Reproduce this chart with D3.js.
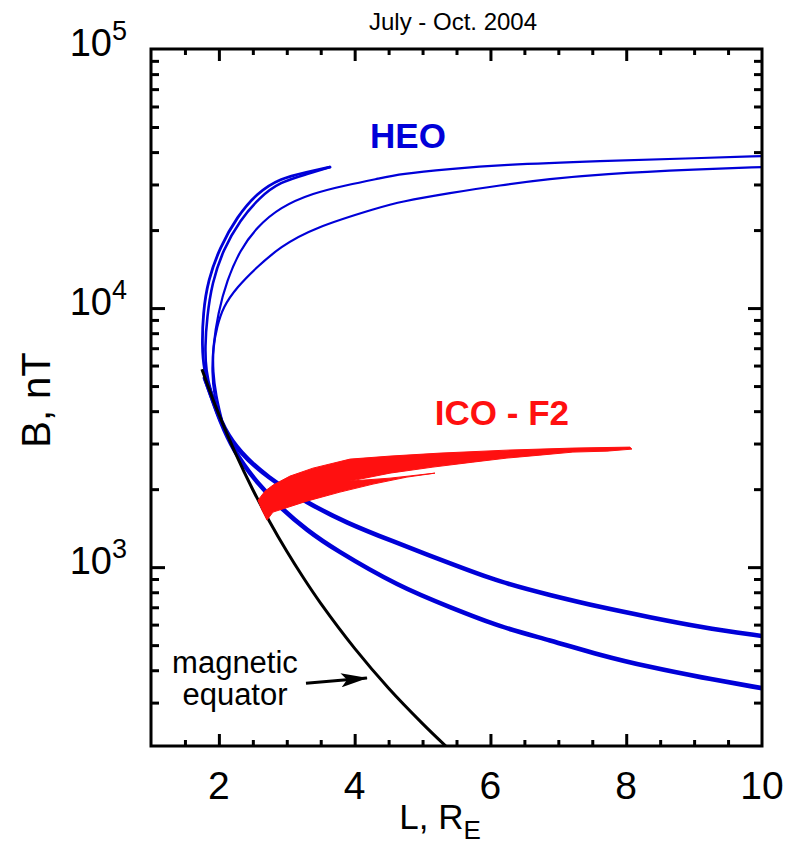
<!DOCTYPE html>
<html>
<head>
<meta charset="utf-8">
<script src="https://cdn.jsdelivr.net/npm/d3@7"></script>
<style>
  body { margin: 0; background: #fff; }
  text { font-family: "Liberation Sans", Arial, sans-serif; }
</style>
</head>
<body>
<div id="chart"></div>
<script>
// ---- values ----
const xLabelTicks = [2, 4, 6, 8, 10];
const xMinorTicks = [1.5, 2.5, 3, 3.5, 4.5, 5, 5.5, 6.5, 7, 7.5, 8.5, 9, 9.5];
const yDecades = [3, 4, 5];
const yMinorTicks = [300, 400, 500, 600, 700, 800, 900,
                     2000, 3000, 4000, 5000, 6000, 7000, 8000, 9000,
                     20000, 30000, 40000, 50000, 60000, 70000, 80000, 90000];

// magnetic equator
const equatorL = [1.75, 1.9, 2, 2.25, 2.5, 2.75, 3, 3.25, 3.5, 4, 4.5, 5, 5.35];
const equatorB = [5800, 4530, 3890, 2730, 1990, 1495, 1152, 906, 725, 486, 341, 249, 203];

// HEO, upper branches (thin)
const heoAL = [10.0, 9.085, 7.613, 6.140, 5.403, 4.667, 4.373, 3.887, 3.386, 2.900, 2.561, 2.311, 2.119, 1.987, 1.913, 1.898, 1.928, 2.016];
const heoAB = [38600, 37900, 37000, 35700, 34400, 32900, 31700, 29850, 27800, 24500, 20550, 16750, 12800, 9570, 7060, 5660, 4615, 3760];

const heoBL = [10.0, 9.085, 7.613, 6.876, 6.140, 5.403, 4.667, 4.373, 3.386, 2.900, 2.561, 2.267, 2.060, 1.972, 1.913, 1.913, 1.957, 2.045];
const heoBB = [35000, 34400, 32900, 31500, 29800, 27800, 25700, 24500, 20370, 17200, 14400, 12060, 10090, 8450, 7060, 5660, 4615, 3700];

const hookOuterL = [3.636, 3.297, 2.900, 2.561, 2.267, 2.016, 1.839, 1.766, 1.751, 1.780, 1.869, 1.987];
const hookOuterB = [35000, 33500, 31700, 27800, 22500, 17200, 12800, 9570, 7060, 5770, 4740, 3860];

const hookInnerL = [3.636, 3.297, 2.900, 2.605, 2.311, 2.060, 1.898, 1.825, 1.795, 1.810, 1.884, 2.001];
const hookInnerB = [35000, 32900, 30660, 26830, 21870, 16750, 12490, 9230, 7060, 5710, 4700, 3830];

// HEO, lower branches (thick)
const heoLow1L = [1.795, 1.898, 1.972, 2.060, 2.311, 2.708, 3.297, 3.887, 4.520, 5.403, 6.140, 6.876, 7.613, 8.349, 9.085, 10.0];
const heoLow1B = [5366, 4533, 4040, 3470, 2760, 2230, 1770, 1480, 1270, 1035, 875, 780, 701, 641, 587, 542];

const heoLow2L = [1.810, 1.913, 2.016, 2.208, 2.561, 2.944, 3.297, 3.680, 4.667, 5.403, 6.140, 6.876, 7.613, 8.349, 9.085, 10.0];
const heoLow2B = [5270, 4410, 3700, 2829, 2110, 1660, 1390, 1180, 837, 701, 587, 523, 457, 411, 376, 341];

// ICO-F2 outline
const icoL = [2.576, 2.679, 2.797, 3.047, 3.386, 3.931, 4.520, 5.256, 6.243, 7.215, 8.054, 8.084, 7.716, 7.215, 6.729, 6.243, 5.742, 5.153, 4.520, 3.931, 4.520, 5.183, 4.770, 4.270, 3.783, 3.297, 2.797, 2.708, 2.635];
const icoB = [1814, 1965, 2073, 2246, 2411, 2612, 2683, 2755, 2829, 2881, 2906, 2855, 2804, 2780, 2706, 2636, 2543, 2433, 2306, 2148, 2206, 2306, 2226, 2092, 1948, 1798, 1631, 1519, 1660];

// annotation anchors [L, B]
const heoLabel = [4.785, 41480];
const icoLabel = [6.169, 3535];
const eqText1 = [2.237, 390];
const eqText2 = [2.237, 293];
const arrowFrom = [3.283, 356];
const arrowTo = [4.181, 373];

function drawChart(containerId)
{
    const width = 791;
    const height = 846;
    const margin = { top: 49, right: 29, bottom: 100, left: 151 };

    const svg = d3.select(containerId)
        .append('svg')
        .attr('width', width)
        .attr('height', height);

    const x = d3.scaleLinear()
        .domain([1, 10])
        .range([margin.left, width - margin.right]);

    const y = d3.scaleLog()
        .domain([204, 1e5])
        .range([height - margin.bottom, margin.top]);

    const blue = '#0000d8';
    const red = '#ff1010';

    svg.append('clipPath').attr('id', 'plot-clip')
        .append('rect')
        .attr('x', x(1)).attr('y', y(1e5))
        .attr('width', x(10) - x(1)).attr('height', y(204) - y(1e5));

    const plot = svg.append('g').attr('clip-path', 'url(#plot-clip)');

    // smooth the hand-read points a little
    const line = d3.line()
        .x(d => x(d[0]))
        .y(d => y(d[1]))
        .curve(d3.curveBasis);

    // blue HEO traces
    const traces = [[heoAL, heoAB, 2.2], [heoBL, heoBB, 2.2],
                    [hookOuterL, hookOuterB, 2.8], [hookInnerL, hookInnerB, 2.6],
                    [heoLow1L, heoLow1B, 4.6], [heoLow2L, heoLow2B, 4.6]];
    traces.forEach(s => {
        plot.append('path')
            .datum(d3.zip(s[0], s[1]))
            .attr('d', line)
            .attr('fill', 'none')
            .attr('stroke', blue)
            .attr('stroke-width', s[2])
            .attr('stroke-linecap', 'round');
    });

    // magnetic equator
    plot.append('path')
        .datum(d3.zip(equatorL, equatorB))
        .attr('d', d3.line().x(d => x(d[0])).y(d => y(d[1])).curve(d3.curveCatmullRom))
        .attr('fill', 'none')
        .attr('stroke', '#000')
        .attr('stroke-width', 3);

    // ICO-F2 band
    plot.append('path')
        .datum(d3.zip(icoL, icoB))
        .attr('d', d3.line().x(d => x(d[0])).y(d => y(d[1])).curve(d3.curveLinearClosed))
        .attr('fill', red)
        .attr('stroke', red)
        .attr('stroke-width', 1);

    // ticks, all pointing inward
    const bottom = svg.append('g').attr('transform', `translate(0,${y(204)})`);
    bottom.call(d3.axisBottom(x).tickValues(xLabelTicks.slice(0, -1)).tickSize(-12).tickFormat(''));
    bottom.call(g => g.append('g').call(d3.axisBottom(x).tickValues(xMinorTicks).tickSize(-6).tickFormat('')));
    const top = svg.append('g').attr('transform', `translate(0,${y(1e5)})`);
    top.call(d3.axisTop(x).tickValues(xLabelTicks.slice(0, -1)).tickSize(-12).tickFormat(''));
    top.call(g => g.append('g').call(d3.axisTop(x).tickValues(xMinorTicks).tickSize(-6).tickFormat('')));

    const decadeVals = yDecades.map(e => Math.pow(10, e)).filter(v => v < 1e5);
    const left = svg.append('g').attr('transform', `translate(${x(1)},0)`);
    left.call(d3.axisLeft(y).tickValues(decadeVals).tickSize(-14).tickFormat(''));
    left.call(g => g.append('g').call(d3.axisLeft(y).tickValues(yMinorTicks).tickSize(-8).tickFormat('')));
    const right = svg.append('g').attr('transform', `translate(${x(10)},0)`);
    right.call(d3.axisRight(y).tickValues(decadeVals).tickSize(-14).tickFormat(''));
    right.call(g => g.append('g').call(d3.axisRight(y).tickValues(yMinorTicks).tickSize(-8).tickFormat('')));

    svg.selectAll('.domain').remove();
    svg.selectAll('.tick line').attr('stroke', '#000').attr('stroke-width', 3);

    // frame
    svg.append('rect')
        .attr('x', x(1)).attr('y', y(1e5))
        .attr('width', x(10) - x(1)).attr('height', y(204) - y(1e5))
        .attr('fill', 'none')
        .attr('stroke', '#000')
        .attr('stroke-width', 3);

    // x tick labels
    svg.selectAll('.xlab')
        .data(xLabelTicks)
        .enter()
        .append('text')
        .attr('x', d => x(d))
        .attr('y', y(204) + 53)
        .attr('text-anchor', 'middle')
        .attr('font-size', 39)
        .text(d => d);

    // y tick labels 10^n
    yDecades.forEach(e => {
        svg.append('text')
            .attr('x', 112)
            .attr('y', y(Math.pow(10, e)) + 7)
            .attr('font-size', 38)
            .attr('text-anchor', 'end')
            .text('10');
        svg.append('text')
            .attr('x', 112)
            .attr('y', y(Math.pow(10, e)) - 9)
            .attr('font-size', 27)
            .text(e);
    });

    // axis titles
    const xt = svg.append('text')
        .attr('x', 440)
        .attr('y', 829)
        .attr('text-anchor', 'middle')
        .attr('font-size', 35);
    xt.append('tspan').text('L, R');
    xt.append('tspan').attr('font-size', 26).attr('dy', 10).text('E');

    svg.append('text')
        .attr('transform', 'translate(50,400) rotate(-90)')
        .attr('text-anchor', 'middle')
        .attr('font-size', 40)
        .text('B, nT');

    svg.append('text')
        .attr('x', 453)
        .attr('y', 30)
        .attr('text-anchor', 'middle')
        .attr('font-size', 24)
        .text('July - Oct. 2004');

    // series labels
    svg.append('text')
        .attr('x', x(heoLabel[0])).attr('y', y(heoLabel[1]))
        .attr('text-anchor', 'middle')
        .attr('font-size', 35).attr('font-weight', 'bold')
        .attr('fill', blue)
        .text('HEO');

    svg.append('text')
        .attr('x', x(icoLabel[0])).attr('y', y(icoLabel[1]))
        .attr('text-anchor', 'middle')
        .attr('font-size', 35).attr('font-weight', 'bold')
        .attr('fill', red)
        .text('ICO - F2');

    // magnetic equator note + arrow
    svg.append('text')
        .attr('x', x(eqText1[0])).attr('y', y(eqText1[1]))
        .attr('text-anchor', 'middle').attr('font-size', 31)
        .text('magnetic');
    svg.append('text')
        .attr('x', x(eqText2[0])).attr('y', y(eqText2[1]))
        .attr('text-anchor', 'middle').attr('font-size', 31)
        .text('equator');

    svg.append('defs').append('marker')
        .attr('id', 'arrowhead')
        .attr('markerUnits', 'userSpaceOnUse')
        .attr('markerWidth', 28).attr('markerHeight', 14)
        .attr('refX', 26).attr('refY', 7)
        .attr('orient', 'auto')
        .append('path')
        .attr('d', 'M0,0 L27,7 L0,14 L6,7 Z')
        .attr('fill', '#000');

    svg.append('line')
        .attr('x1', x(arrowFrom[0])).attr('y1', y(arrowFrom[1]))
        .attr('x2', x(arrowTo[0])).attr('y2', y(arrowTo[1]))
        .attr('stroke', '#000')
        .attr('stroke-width', 3)
        .attr('marker-end', 'url(#arrowhead)');
}

drawChart('#chart');
</script>
</body>
</html>
